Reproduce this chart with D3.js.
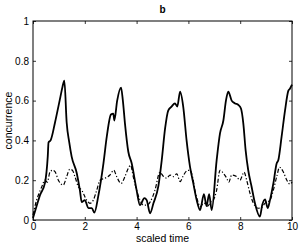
<!DOCTYPE html>
<html><head><meta charset="utf-8">
<script src="https://cdn.jsdelivr.net/npm/d3@7"></script>
<style>
html,body{margin:0;padding:0;background:#fff;}
svg{display:block;}
text{font-family:"Liberation Sans",Arial,Helvetica,sans-serif;fill:#000;}
</style></head>
<body><svg id="c" width="300" height="245"></svg>
<script>
// ---- data ----
const xTicks = [0, 2, 4, 6, 8, 10];
const yTicks = [0, 0.2, 0.4, 0.6, 0.8, 1];
const yTickLabels = ["0", "0.2", "0.4", "0.6", "0.8", "1"];
const title = "b";
const xLabel = "scaled time";
const yLabel = "concurrence";

const solidT = [0,0.14,0.27,0.46,0.57,0.60,0.68,0.85,0.98,1.06,1.14,1.21,1.30,1.40,1.49,1.69,1.81,1.88,2.0,2.14,2.27,2.37,2.52,2.72,2.85,3.01,3.10,3.14,3.25,3.40,3.47,3.55,3.68,3.81,4.0,4.13,4.30,4.39,4.52,4.65,4.84,4.97,5.10,5.22,5.35,5.48,5.57,5.68,5.80,5.93,6.06,6.19,6.32,6.45,6.60,6.70,6.80,6.90,7.09,7.22,7.35,7.45,7.54,7.67,7.80,7.93,8.03,8.12,8.21,8.31,8.44,8.57,8.76,8.85,8.96,9.06,9.15,9.28,9.41,9.47,9.60,9.73,9.86,9.92,10];
const solidV = [0.01,0.07,0.125,0.185,0.32,0.39,0.40,0.49,0.57,0.62,0.67,0.70,0.49,0.39,0.32,0.235,0.15,0.09,0.10,0.06,0.06,0.037,0.12,0.285,0.42,0.53,0.535,0.50,0.60,0.665,0.60,0.486,0.343,0.285,0.15,0.075,0.11,0.10,0.034,0.084,0.17,0.30,0.46,0.55,0.57,0.586,0.57,0.645,0.57,0.40,0.27,0.184,0.10,0.05,0.13,0.07,0.13,0.05,0.30,0.435,0.50,0.60,0.645,0.60,0.586,0.578,0.56,0.486,0.35,0.25,0.167,0.084,0.017,0.075,0.104,0.06,0.10,0.184,0.285,0.30,0.42,0.55,0.65,0.66,0.68];

const dashT = [0,0.14,0.25,0.34,0.46,0.55,0.66,0.76,0.85,0.98,1.17,1.30,1.42,1.52,1.62,1.75,1.88,2.07,2.2,2.33,2.46,2.59,2.78,2.97,3.12,3.23,3.40,3.55,3.68,3.77,3.87,4.0,4.13,4.26,4.39,4.52,4.71,4.90,5.03,5.16,5.29,5.42,5.55,5.68,5.80,5.95,6.06,6.16,6.25,6.35,6.45,6.6,6.75,6.85,6.96,7.09,7.22,7.35,7.48,7.56,7.67,7.86,7.99,8.15,8.25,8.38,8.51,8.70,8.80,8.96,9.15,9.28,9.41,9.52,9.67,9.80,9.92,10];
const dashV = [0.025,0.10,0.14,0.167,0.20,0.19,0.243,0.25,0.243,0.20,0.176,0.218,0.255,0.25,0.218,0.167,0.15,0.10,0.084,0.10,0.15,0.20,0.21,0.226,0.25,0.218,0.184,0.218,0.26,0.275,0.218,0.15,0.10,0.075,0.075,0.09,0.15,0.24,0.22,0.21,0.226,0.218,0.232,0.193,0.222,0.248,0.25,0.218,0.15,0.10,0.067,0.085,0.07,0.09,0.10,0.15,0.25,0.235,0.21,0.19,0.226,0.218,0.20,0.24,0.20,0.134,0.084,0.059,0.06,0.085,0.10,0.15,0.218,0.265,0.24,0.20,0.18,0.19];

// ---- layout ----
const L = 33, R = 292, T = 21, B = 220;
const svg = d3.select("#c");
const x = d3.scaleLinear().domain([0, 10]).range([L, R]);
const y = d3.scaleLinear().domain([0, 1]).range([B, T]);

const fmtY = (d) => yTickLabels[yTicks.indexOf(d)];

const gB = svg.append("g").attr("transform", `translate(0,${B})`)
  .call(d3.axisBottom(x).tickValues(xTicks).tickSize(-3).tickPadding(3).tickFormat(d3.format("d")));
const gT = svg.append("g").attr("transform", `translate(0,${T})`)
  .call(d3.axisTop(x).tickValues(xTicks).tickSize(-3).tickFormat(""));
const gL = svg.append("g").attr("transform", `translate(${L},0)`)
  .call(d3.axisLeft(y).tickValues(yTicks).tickSize(-3).tickPadding(4).tickFormat(fmtY));
const gR = svg.append("g").attr("transform", `translate(${R},0)`)
  .call(d3.axisRight(y).tickValues(yTicks).tickSize(-3).tickFormat(""));

[gB, gT, gL, gR].forEach(g => {
  g.select(".domain").remove();
  g.selectAll("line").attr("stroke", "#000").attr("stroke-width", 0.8);
  g.selectAll("text").attr("font-size", 10).attr("font-family", "Liberation Sans, Arial, sans-serif").attr("fill", "#000");
});

svg.append("rect").attr("x", L).attr("y", T).attr("width", R - L).attr("height", B - T)
  .attr("fill", "none").attr("stroke", "#000").attr("stroke-width", 1);

const line = d3.line().x(d => x(d[0])).y(d => y(d[1])).curve(d3.curveMonotoneX);

svg.append("path").datum(dashT.map((t, i) => [t, dashV[i]]))
  .attr("d", line).attr("fill", "none").attr("stroke", "#000")
  .attr("stroke-width", 1.2).attr("stroke-dasharray", "4,2,1.2,2");

svg.append("path").datum(solidT.map((t, i) => [t, solidV[i]]))
  .attr("d", line).attr("fill", "none").attr("stroke", "#000")
  .attr("stroke-width", 1.8).attr("stroke-linejoin", "round");

svg.append("text").attr("x", (L + R) / 2).attr("y", 242).attr("text-anchor", "middle")
  .attr("font-size", 10.5).text(xLabel);
svg.append("text").attr("transform", `translate(12,${(T + B) / 2}) rotate(-90)`)
  .attr("text-anchor", "middle").attr("font-size", 10.5).text(yLabel);
svg.append("text").attr("x", (L + R) / 2).attr("y", 13).attr("text-anchor", "middle")
  .attr("font-size", 10).attr("font-weight", "bold").text(title);
</script></body></html>
